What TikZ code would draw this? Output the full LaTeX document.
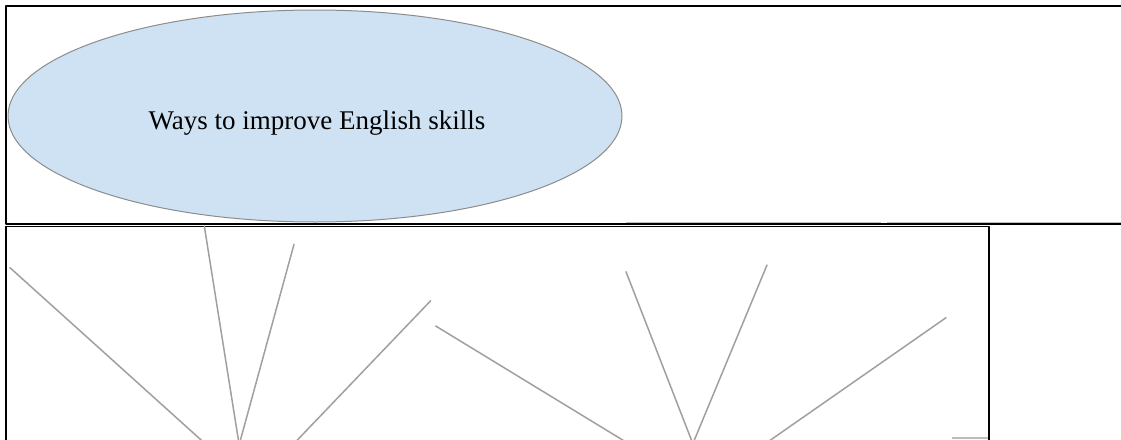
\documentclass[tikz,border=0pt]{standalone}
\usepackage{fontspec}
\setmainfont{Liberation Serif}
\usetikzlibrary{shapes.geometric}
\definecolor{bubble}{HTML}{CFE2F3}
\definecolor{rim}{HTML}{8C8C8C}
\definecolor{spoke}{HTML}{A0A0A0}
\definecolor{edge}{HTML}{BDBDBD}
\begin{document}
\begin{tikzpicture}[x=1pt, y=-1pt, line join=round, line cap=round,
		frame/.style={black, line width=1.2pt, line cap=butt},
		spokeline/.style={spoke, line width=1.5pt},
		topic/.style={ellipse, draw=rim, fill=bubble, line width=1pt, inner sep=0pt,
			minimum width=614pt, minimum height=212pt}]
	\def\W{1121} \def\H{439}
	\useasboundingbox (0,0) rectangle (\W,\H);
	\clip (0,0) rectangle (\W,\H);
	\fill[white] (0,0) rectangle (\W,\H);
	% shapes cut off to the right
	\coordinate (ea) at (626,222.5); \coordinate (eb) at (881,222.5);
	\coordinate (ec) at (887,222.5); \coordinate (ed) at (\W,222.5);
	\draw[edge, line width=1.6pt, line cap=butt] (ea)--(eb) (ec)--(ed);
	\draw[edge, line width=1.2pt, line cap=butt] (952,438)--(990,438);
	% upper frame
	\draw[frame] (\W,6)--(6,6)--(6,224)--(\W,224);
	\node[topic] (title) at (315,116) {};
	\node[font=\fontsize{27}{32}\selectfont, inner sep=0pt] (caption) at (317,123) {Ways to improve English skills};
	% lower frame
	\draw[frame] (6,\H+5)--(6,226.7)--(989,226.7)--(989,\H+5);
	% spokes
	\foreach \n/\tx/\ty/\bx in {1/10/267.7/212.2, 2/204.3/226/240, 3/294/244.3/237.7,
		4/430.7/300.7/287.8, 5/435.7/326/639, 6/626/271.7/695.3, 7/767/265/690.2,
		8/946/317.7/756.2}{
		\coordinate (tip\n) at (\tx,\ty);
		\coordinate (foot\n) at (\bx,450);
		\draw[spokeline] (tip\n)--(foot\n);
	}
\end{tikzpicture}
\end{document}
